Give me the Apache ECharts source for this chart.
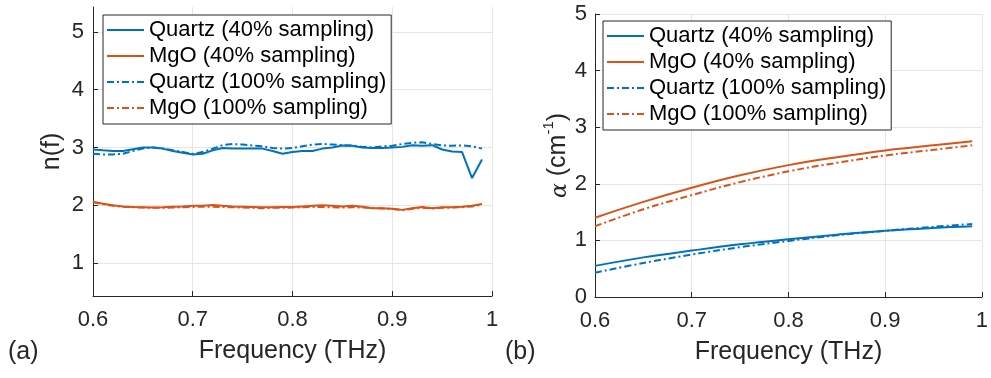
<!DOCTYPE html>
<html><head><meta charset="utf-8">
<script src="https://cdn.jsdelivr.net/npm/echarts@6/dist/echarts.min.js"></script>
<style>html,body{margin:0;padding:0;background:#fff}#c{width:991px;height:378px}</style>
</head><body><div id="c"></div>
<script>
// ---- data: refractive index n(f), panel (a)
const freqN = [0.60,0.61,0.62,0.63,0.64,0.65,0.66,0.67,0.68,0.69,0.70,0.71,0.72,0.73,0.74,0.75,0.76,0.77,0.78,0.79,
               0.80,0.81,0.82,0.83,0.84,0.85,0.86,0.87,0.88,0.89,0.90,0.91,0.92,0.93,0.94,0.95,0.96,0.97,0.98,0.99];
const nQuartz40 = [2.965,2.95,2.94,2.94,2.97,3.0,3.0,2.98,2.94,2.91,2.88,2.89,2.95,2.99,2.98,2.98,2.98,2.98,2.94,2.89,
                   2.92,2.94,2.94,2.98,3.0,3.035,3.03,3.0,2.99,2.99,3.0,3.01,3.04,3.03,3.04,2.965,2.93,2.92,2.47,2.79];
const nMgO40 = [2.06,2.025,2.0,1.98,1.97,1.965,1.96,1.965,1.975,1.98,1.99,1.99,2.005,1.99,1.98,1.975,1.97,1.965,1.965,1.97,
                1.97,1.98,1.99,2.0,1.99,1.98,1.99,1.975,1.95,1.95,1.94,1.92,1.95,1.97,1.95,1.965,1.965,1.975,1.99,2.02];
const nQuartz100 = [2.89,2.88,2.88,2.89,2.94,2.98,3.0,2.98,2.95,2.92,2.89,2.92,2.98,3.04,3.06,3.05,3.035,3.02,2.99,2.98,
                    2.99,3.02,3.05,3.06,3.05,3.04,3.035,3.01,3.0,3.02,3.03,3.06,3.08,3.09,3.06,3.035,3.03,3.035,3.02,2.98];
const nMgO100 = [2.05,2.02,1.99,1.975,1.965,1.96,1.955,1.955,1.96,1.965,1.97,1.975,1.975,1.97,1.965,1.96,1.955,1.95,1.955,1.955,
                 1.96,1.965,1.97,1.97,1.965,1.96,1.965,1.96,1.955,1.945,1.935,1.915,1.94,1.955,1.945,1.955,1.96,1.965,1.98,2.01];
// ---- data: absorption alpha (cm^-1), panel (b)
const freqA = [0.60,0.65,0.70,0.75,0.80,0.85,0.90,0.95,0.99];
const aQuartz40 = [0.55,0.70,0.82,0.93,1.02,1.10,1.17,1.22,1.25];
const aMgO40 = [1.40,1.68,1.93,2.15,2.33,2.47,2.59,2.68,2.75];
const aQuartz100 = [0.43,0.60,0.75,0.88,0.99,1.09,1.17,1.24,1.29];
const aMgO100 = [1.25,1.55,1.80,2.03,2.22,2.37,2.50,2.60,2.68];
// ---- ticks / labels
const xTicks = [0.6,0.7,0.8,0.9,1];
const nTicks = [1,2,3,4,5];
const aTicks = [0,1,2,3,4,5];
const names = ['Quartz (40% sampling)','MgO (40% sampling)','Quartz (100% sampling)','MgO (100% sampling)'];

const FONT = 'Liberation Sans, Arial, sans-serif';
const TXT = '#262626';
const BLUE = '#0072BD', ORANGE = '#D95319';
const DASH = [7,3,2,3];

function pairs(xs, ys){ return xs.map((x,i)=>[x, ys[i]]); }

const chart = echarts.init(document.getElementById('c'), null, {renderer:'canvas'});

function xAxis(gi){
  return {
    gridIndex: gi, type:'value', min: xTicks[0], max: xTicks[xTicks.length-1], interval: 0.1,
    name: 'Frequency (THz)', nameLocation:'middle', nameGap: 43,
    nameTextStyle:{fontFamily:FONT, fontSize:25, color:TXT},
    axisLine:{show:true, onZero:false, lineStyle:{color:TXT, width:1}},
    axisTick:{show:true, inside:true, length:5, lineStyle:{color:TXT}},
    axisLabel:{fontFamily:FONT, fontSize:22, color:TXT, margin:13,
      formatter: v => String(parseFloat(v.toFixed(1)))},
    splitLine:{show:true, lineStyle:{color:'#e6e6e6', width:1}}
  };
}
const legendCommon = {
  orient:'vertical', data: names,
  itemWidth: 37, itemHeight: 14, itemGap: 2,
  borderColor: TXT, borderWidth: 1, backgroundColor:'#fff',
  padding:[3,5,4,3],
  itemStyle:{opacity:0},
  textStyle:{fontFamily:FONT, fontSize:22, color:'#000', lineHeight:24},
  selectedMode:false
};

function line(name, xi, yi, xs, ys, color, dashed, smooth){
  return {
    name, type:'line', xAxisIndex:xi, yAxisIndex:yi,
    data: pairs(xs, ys), symbol:'none', showSymbol:false, smooth: smooth ? 0.4 : false,
    lineStyle:{color, width:2, type: dashed ? DASH : 'solid'},
    itemStyle:{color}, z: 3, animation:false
  };
}

chart.setOption({
  animation:false,
  backgroundColor:'#fff',
  grid:[
    {left:93, top:7, width:399, height:289},
    {left:595, top:14, width:391, height:283}
  ],
  xAxis:[xAxis(0), xAxis(1)],
  yAxis:[
    {gridIndex:0, type:'value', min:0.43, max:5.43,
     name:'n(f)', nameLocation:'middle', nameGap:28,
     nameTextStyle:{fontFamily:FONT, fontSize:25, color:TXT},
     axisLine:{show:true, lineStyle:{color:TXT, width:1}},
     axisTick:{show:true, inside:true, length:5, customValues:nTicks, lineStyle:{color:TXT}},
     axisLabel:{fontFamily:FONT, fontSize:22, color:TXT, margin:9, customValues:nTicks},
     splitLine:{show:true, lineStyle:{color:'#e6e6e6', width:1}}},
    {gridIndex:1, type:'value', min:aTicks[0], max:aTicks[aTicks.length-1], interval:1,
     name:'{a|α} {t|(cm}{s|-1}{t|)}', nameLocation:'middle', nameGap:17,
     nameTextStyle:{fontFamily:FONT, fontSize:25, color:TXT,
       rich:{
         a:{fontFamily:'DejaVu Serif, serif', fontStyle:'italic', fontSize:22, color:TXT, lineHeight:30, verticalAlign:'bottom'},
         t:{fontFamily:FONT, fontSize:25, color:TXT, lineHeight:30, verticalAlign:'bottom'},
         s:{fontFamily:FONT, fontSize:15, color:TXT, lineHeight:30, verticalAlign:'top'}
       }},
     axisLine:{show:true, lineStyle:{color:TXT, width:1}},
     axisTick:{show:true, inside:true, length:5, lineStyle:{color:TXT}},
     axisLabel:{fontFamily:FONT, fontSize:22, color:TXT, margin:8},
     splitLine:{show:true, lineStyle:{color:'#e6e6e6', width:1}}}
  ],
  legend:[
    Object.assign({}, legendCommon, {left:103, top:15}),
    Object.assign({}, legendCommon, {left:603, top:21})
  ],
  graphic:[
    {type:'text', left:8, top:340, style:{text:'(a)', font:'25px '+FONT, fill:TXT}},
    {type:'text', left:505, top:340, style:{text:'(b)', font:'25px '+FONT, fill:TXT}}
  ],
  series:[
    line(names[0],0,0,freqN,nQuartz40,BLUE,false,false),
    line(names[1],0,0,freqN,nMgO40,ORANGE,false,false),
    line(names[2],0,0,freqN,nQuartz100,BLUE,true,false),
    line(names[3],0,0,freqN,nMgO100,ORANGE,true,false),
    line(names[0],1,1,freqA,aQuartz40,BLUE,false,true),
    line(names[1],1,1,freqA,aMgO40,ORANGE,false,true),
    line(names[2],1,1,freqA,aQuartz100,BLUE,true,true),
    line(names[3],1,1,freqA,aMgO100,ORANGE,true,true)
  ]
});
</script>
</body></html>
